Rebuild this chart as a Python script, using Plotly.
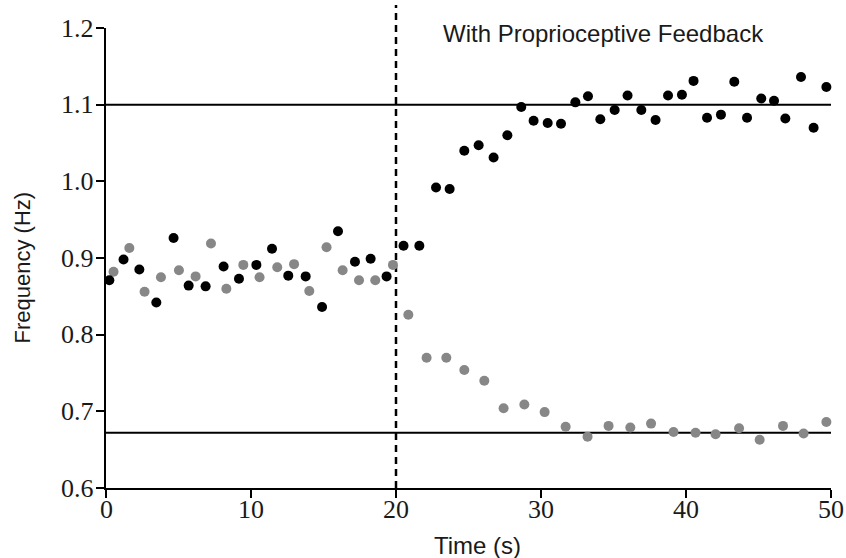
import plotly.graph_objects as go

# Black series (time s, frequency Hz)
black_t = [0.23, 1.21, 2.30, 3.47, 4.66, 5.70, 6.87, 8.11, 9.17, 10.37, 11.45, 12.57, 13.77,
           14.90, 16.00, 17.17, 18.25, 19.35, 20.52, 21.61, 22.76, 23.70, 24.71, 25.70, 26.73,
           27.68, 28.64, 29.49, 30.46, 31.38, 32.37, 33.24, 34.09, 35.08, 35.97, 36.92, 37.90,
           38.76, 39.72, 40.52, 41.45, 42.41, 43.33, 44.21, 45.19, 46.07, 46.85, 47.93, 48.80, 49.68]
black_f = [0.871, 0.898, 0.885, 0.842, 0.926, 0.864, 0.863, 0.889, 0.873, 0.891, 0.912, 0.877, 0.876,
           0.836, 0.935, 0.895, 0.899, 0.876, 0.916, 0.916, 0.992, 0.990, 1.040, 1.047, 1.031,
           1.060, 1.097, 1.079, 1.076, 1.075, 1.103, 1.111, 1.081, 1.093, 1.112, 1.093, 1.080,
           1.112, 1.113, 1.131, 1.083, 1.087, 1.130, 1.083, 1.108, 1.105, 1.082, 1.136, 1.070, 1.123]

# Gray series
gray_t = [0.52, 1.61, 2.66, 3.79, 5.03, 6.18, 7.24, 8.30, 9.47, 10.59, 11.81, 12.97, 14.02,
          15.21, 16.32, 17.45, 18.57, 19.79, 20.85, 22.11, 23.47, 24.71, 26.09, 27.42, 28.85,
          30.25, 31.70, 33.21, 34.66, 36.16, 37.59, 39.14, 40.66, 42.04, 43.66, 45.08, 46.69,
          48.11, 49.68]
gray_f = [0.882, 0.913, 0.856, 0.875, 0.884, 0.876, 0.919, 0.860, 0.891, 0.875, 0.888, 0.892, 0.857,
          0.914, 0.884, 0.871, 0.871, 0.891, 0.826, 0.770, 0.770, 0.754, 0.740, 0.704, 0.709,
          0.699, 0.680, 0.667, 0.681, 0.679, 0.684, 0.673, 0.672, 0.670, 0.678, 0.663, 0.681,
          0.671, 0.686]

ref_high = 1.1
ref_low = 0.672
switch_time = 20

x_ticks = [0, 10, 20, 30, 40, 50]
x_ticklabels = ["0", "10", "20", "30", "40", "50"]
y_ticks = [0.6, 0.7, 0.8, 0.9, 1.0, 1.1, 1.2]
y_ticklabels = ["0.6", "0.7", "0.8", "0.9", "1.0", "1.1", "1.2"]

tick_font = dict(family="Liberation Serif, Times New Roman", size=26, color="#1a1a1a")

fig = go.Figure()
fig.add_trace(go.Scatter(x=gray_t, y=gray_f, mode="markers",
                         marker=dict(color="rgb(135,135,135)", size=10, line=dict(width=0)),
                         cliponaxis=False, showlegend=False))
fig.add_trace(go.Scatter(x=black_t, y=black_f, mode="markers",
                         marker=dict(color="black", size=10, line=dict(width=0)),
                         cliponaxis=False, showlegend=False))

fig.add_shape(type="line", xref="x", yref="y", x0=0, x1=50, y0=ref_high, y1=ref_high,
              line=dict(color="black", width=2), layer="below")
fig.add_shape(type="line", xref="x", yref="y", x0=0, x1=50, y0=ref_low, y1=ref_low,
              line=dict(color="black", width=2), layer="below")
fig.add_shape(type="line", xref="x", yref="paper", x0=switch_time, x1=switch_time, y0=0, y1=1.05,
              line=dict(color="black", width=2.5, dash="7px,5px"), layer="below")

# Tick labels placed close to the ticks, as in the reference
for v, lab in zip(x_ticks, x_ticklabels):
    fig.add_annotation(text=lab, xref="x", yref="paper", x=v, y=-0.0457, showarrow=False,
                       xanchor="center", yanchor="middle", font=tick_font)
for v, lab in zip(y_ticks, y_ticklabels):
    fig.add_annotation(text=lab, xref="paper", yref="y", x=-0.0134, y=v, showarrow=False,
                       xanchor="right", yanchor="middle", xshift=0, font=tick_font)

fig.add_annotation(text="With Proprioceptive Feedback", xref="paper", yref="paper",
                   x=0.686, y=0.989, showarrow=False, xanchor="center", yanchor="middle",
                   font=dict(family="Liberation Sans, Arial", size=24, color="#1a1a1a"))
fig.add_annotation(text="Time (s)", xref="paper", yref="paper",
                   x=0.512, y=-0.124, showarrow=False, xanchor="center", yanchor="middle",
                   font=dict(family="Liberation Sans, Arial", size=24, color="#1a1a1a"))
fig.add_annotation(text="Frequency (Hz)", xref="paper", yref="paper", textangle=-90,
                   x=-0.1155, y=0.48, showarrow=False, xanchor="center", yanchor="middle",
                   font=dict(family="Liberation Sans, Arial", size=22, color="#1a1a1a"))

fig.update_xaxes(range=[0, 50], tickvals=x_ticks, showticklabels=False, ticks="outside",
                 ticklen=8, tickwidth=2, tickcolor="black", showline=True, linecolor="black",
                 linewidth=2, showgrid=False, zeroline=False, automargin=False)
fig.update_yaxes(range=[0.6, 1.2], tickvals=y_ticks, showticklabels=False, ticks="outside",
                 ticklen=8, tickwidth=2, tickcolor="black", showline=True, linecolor="black",
                 linewidth=2, showgrid=False, zeroline=False, automargin=False)

fig.update_layout(width=846, height=558, margin=dict(l=106, r=15, t=28, b=70),
                  plot_bgcolor="white", paper_bgcolor="white")

fig.write_html("out.html")
